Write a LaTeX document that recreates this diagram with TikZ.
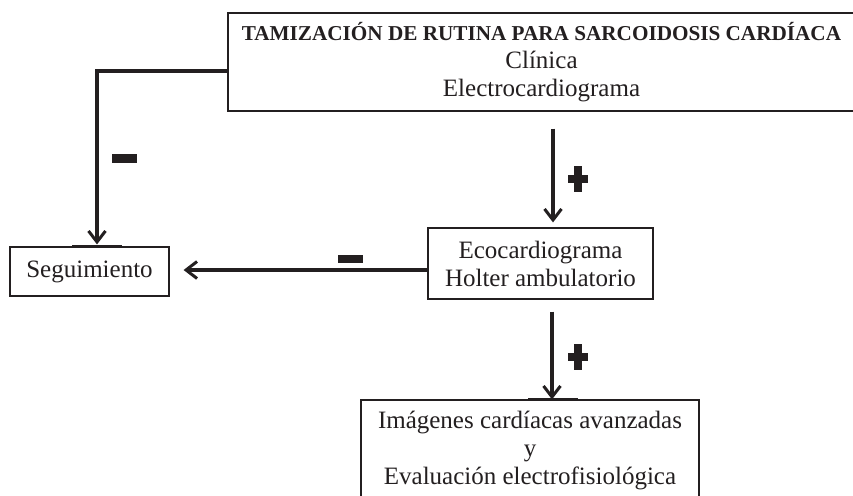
\documentclass[tikz,border=0pt]{standalone}
\usepackage{fontspec}
\setmainfont{Liberation Serif}
\usetikzlibrary{arrows.meta}
\definecolor{ink}{HTML}{231F20}
\begin{document}
\begin{tikzpicture}[x=1pt,y=-1pt,
  box/.style={draw=ink,line width=1.2pt,align=center,text=ink,inner sep=0pt,
    font=\fontsize{25}{28}\selectfont},
  flow/.style={draw=ink,line width=3.2pt,
    -{Straight Barb[length=11pt,width=17pt,line width=3pt]}},
  bar/.style={draw=ink,line width=3pt},
  sign/.style={fill=ink}]
\useasboundingbox (0,0) rectangle (853,495);
\clip (0,0) rectangle (853,495);
\fill[white] (0,0) rectangle (853,495);
% boxes
\node[box,minimum width=627pt,minimum height=98pt] (top) at (541.5,62)
  {{\bfseries\fontsize{21.2}{26}\selectfont TAMIZACIÓN DE RUTINA PARA SARCOIDOSIS CARDÍACA}\\Clínica\\Electrocardiograma};
\node[box,minimum width=159pt,minimum height=49pt] (seg) at (89.5,271.5) {Seguimiento};
\node[box,minimum width=225pt,minimum height=71pt] (eco) at (540.5,263.5) {Ecocardiograma\\Holter ambulatorio};
\node[box,minimum width=338pt,minimum height=100pt] (bot) at (530,450)
  {Imágenes cardíacas avanzadas\\y\\Evaluación electrofisiológica};
% connectors
\draw[flow] ([yshift=-9pt]top.west) -| ([xshift=7.5pt,yshift=2pt]seg.north);
\draw[flow] ([xshift=11.5pt,yshift=-17pt]top.south) -- ([xshift=12.5pt,yshift=5pt]eco.north);
\draw[flow] ([yshift=-6.5pt]eco.west) -- ([xshift=14pt,yshift=1.5pt]seg.east);
\draw[flow] ([xshift=11.5pt,yshift=-12pt]eco.south) -- ([xshift=22pt]bot.north);
% thick segments on box tops
\draw[bar] ([xshift=-17.5pt]seg.north) -- ([xshift=32.5pt]seg.north);
\draw[bar] ([xshift=-2pt]bot.north) -- ([xshift=48pt]bot.north);
% signs
\fill[sign] (112,153.5) rectangle (137,162.5);
\fill[sign] (338,255) rectangle (363,263);
\fill[sign] (574,166) rectangle (582,192);
\fill[sign] (568,175) rectangle (588,183);
\fill[sign] (574,344) rectangle (582,370);
\fill[sign] (568,353) rectangle (588,361);
\end{tikzpicture}
\end{document}
